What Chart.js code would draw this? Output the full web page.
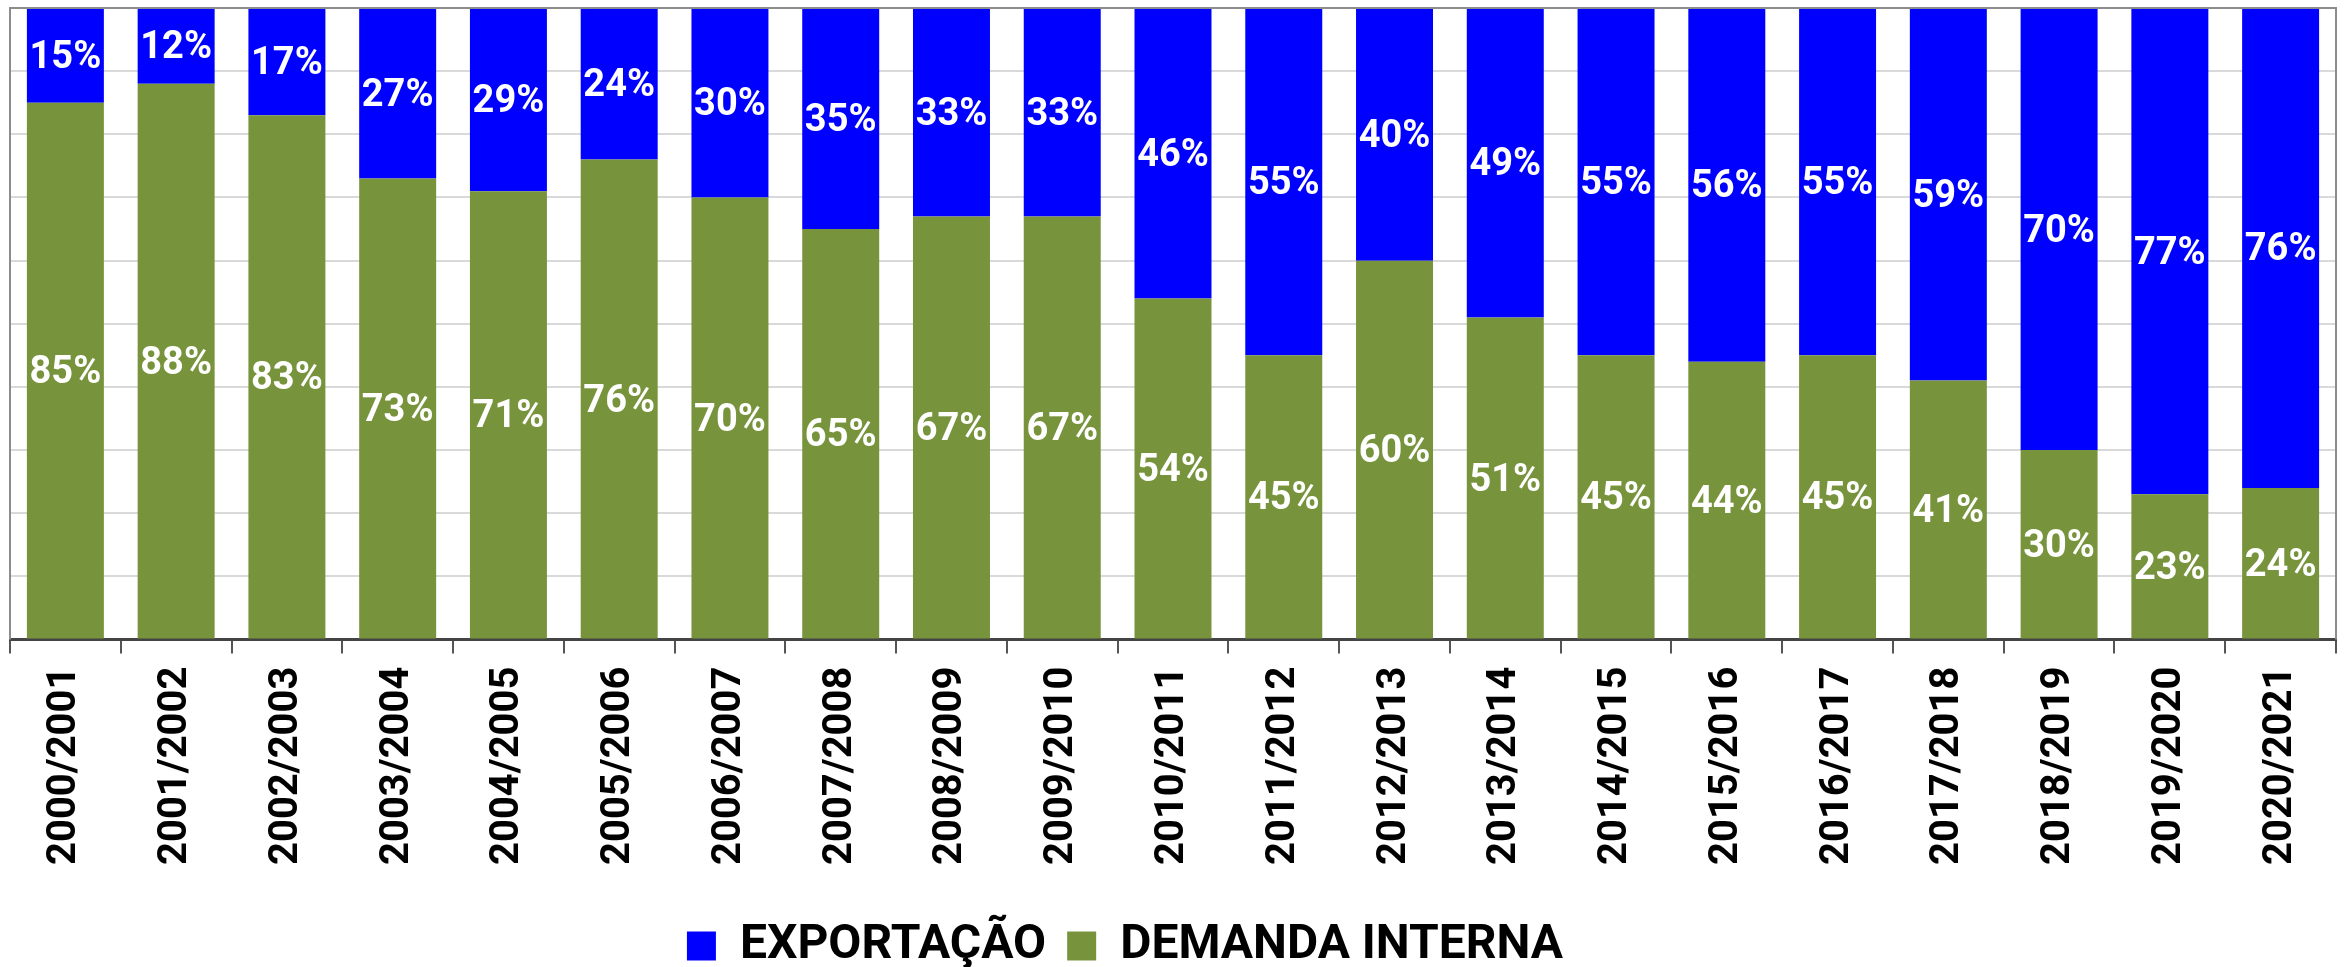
<!DOCTYPE html>
<html lang="pt">
<head>
<meta charset="utf-8">
<title>Exportação x Demanda interna</title>
<script src="https://cdn.jsdelivr.net/npm/chart.js@4.4.1/dist/chart.umd.min.js"></script>
<style>
    html, body { margin: 0; padding: 0; background: #fff; }
    #wrap { width: 2346px; height: 967px; }
</style>
</head>
<body>
<div id="wrap"><canvas id="chart" width="2346" height="967"></canvas></div>
<script>
// Safras e participação (%) de cada destino
const safras = [
    '2000/2001', '2001/2002', '2002/2003', '2003/2004', '2004/2005', '2005/2006', '2006/2007',
    '2007/2008', '2008/2009', '2009/2010', '2010/2011', '2011/2012', '2012/2013', '2013/2014',
    '2014/2015', '2015/2016', '2016/2017', '2017/2018', '2018/2019', '2019/2020', '2020/2021'
];
const demandaInterna = [85, 88, 83, 73, 71, 76, 70, 65, 67, 67, 54, 45, 60, 51, 45, 44, 45, 41, 30, 23, 24];
const exportacao     = [15, 12, 17, 27, 29, 24, 30, 35, 33, 33, 46, 55, 40, 49, 55, 56, 55, 59, 70, 77, 76];

const AZUL = '#0000ff';
const VERDE = '#77933c';
const FONTE = 'Roboto, "Liberation Sans", sans-serif';

// espaço extra sob o eixo x e deslocamento da legenda
const EXTRA_EIXO = 10;
const LEGENDA_DX = -48;
const LEGENDA_DY = 13;

// rótulos brancos no centro de cada segmento
const segLabels = {
    id: 'segLabels',
    afterDatasetsDraw(chart) {
        const ctx = chart.ctx;
        ctx.save();
        ctx.fillStyle = '#fff';
        ctx.font = 'bold 38px ' + FONTE;
        ctx.textAlign = 'center';
        ctx.textBaseline = 'middle';
        chart.data.datasets.forEach((ds, i) => {
            chart.getDatasetMeta(i).data.forEach((bar, j) => {
                const p = bar.getCenterPoint();
                ctx.fillText(ds.data[j] + '%', p.x, p.y + 3);
            });
        });
        ctx.restore();
    }
};

// moldura cinza da área do gráfico
const frame = {
    id: 'frame',
    afterDraw(chart) {
        const a = chart.chartArea, ctx = chart.ctx;
        ctx.save();
        ctx.strokeStyle = '#8c8c8c';
        ctx.lineWidth = 2;
        ctx.beginPath();
        ctx.moveTo(a.left, a.bottom);
        ctx.lineTo(a.left, a.top);
        ctx.lineTo(a.right, a.top);
        ctx.lineTo(a.right, a.bottom);
        ctx.stroke();
        ctx.restore();
    }
};

// legenda um pouco à esquerda e mais baixa
const moveLegend = {
    id: 'moveLegend',
    afterLayout(chart) {
        const lg = chart.legend;
        if (!lg) return;
        lg.left += LEGENDA_DX;
        lg.right += LEGENDA_DX;
        lg.top += LEGENDA_DY;
        lg.bottom += LEGENDA_DY;
    }
};

function draw() {
    new Chart(document.getElementById('chart'), {
        type: 'bar',
        data: {
            labels: safras,
            datasets: [
                { label: 'DEMANDA INTERNA', data: demandaInterna, backgroundColor: VERDE, barPercentage: 0.695, categoryPercentage: 1 },
                { label: 'EXPORTAÇÃO', data: exportacao, backgroundColor: AZUL, barPercentage: 0.695, categoryPercentage: 1 }
            ]
        },
        options: {
            responsive: false,
            animation: false,
            layout: { padding: { left: 10, right: 10, top: 8, bottom: 0 } },
            plugins: {
                tooltip: { enabled: false },
                legend: {
                    position: 'bottom',
                    reverse: true,
                    labels: {
                        color: '#000',
                        font: { family: FONTE, size: 48, weight: 'bold' },
                        boxWidth: 29,
                        boxHeight: 29,
                        padding: 21
                    }
                }
            },
            scales: {
                x: {
                    stacked: true,
                    afterFit(scale) { scale.height += EXTRA_EIXO; },
                    grid: { display: true, drawOnChartArea: false, offset: true, color: '#555', tickLength: 14, lineWidth: 2 },
                    border: { color: '#444', width: 3 },
                    ticks: {
                        color: '#000',
                        font: { family: FONTE, size: 40, weight: 'bold' },
                        minRotation: 90,
                        maxRotation: 90,
                        padding: 13,
                        autoSkip: false
                    }
                },
                y: {
                    stacked: true,
                    min: 0,
                    max: 100,
                    ticks: { display: false, stepSize: 10 },
                    grid: { color: '#d9d9d9', lineWidth: 2, drawTicks: false },
                    border: { display: false }
                }
            }
        },
        plugins: [segLabels, frame, moveLegend]
    });
}

Promise.all([
    document.fonts.load('bold 40px Roboto'),
    document.fonts.load('bold 40px "Liberation Sans"')
]).then(draw, draw);
</script>
</body>
</html>
